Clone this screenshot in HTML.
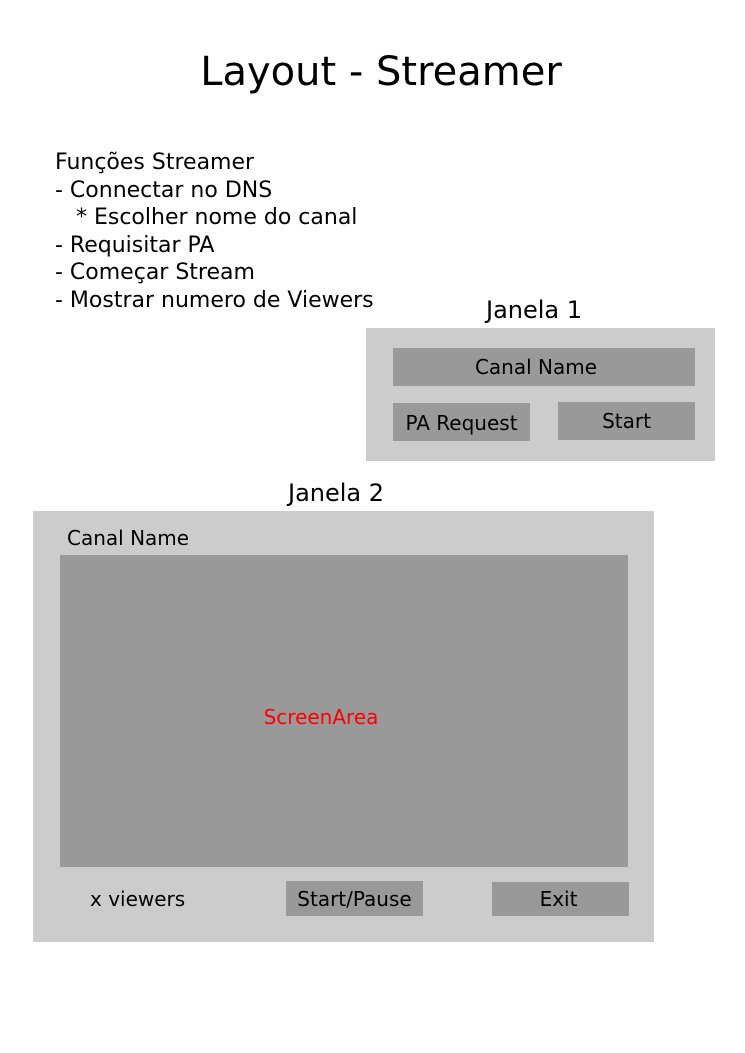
<!DOCTYPE html>
<html><head><meta charset="utf-8"><style>
body{margin:0;width:745px;height:1053px;background:#fff;position:relative;font-family:"DejaVu Sans","Liberation Sans",sans-serif;color:#000;overflow:hidden}
.a{position:absolute;white-space:nowrap}
.b{position:absolute;background:#999;display:flex;align-items:center;justify-content:center;font-size:20px;box-sizing:border-box}
</style></head><body>
<div class="a" style="left:0;width:762px;text-align:center;top:48px;font-size:40px;line-height:48px">Layout - Streamer</div>
<div class="a" style="left:55px;top:149px;font-size:22px;line-height:27.5px">Funções Streamer<br>- Connectar no DNS<br>&nbsp;&nbsp;&nbsp;* Escolher nome do canal<br>- Requisitar PA<br>- Começar Stream<br>- Mostrar numero de Viewers</div>
<div class="a" style="left:486px;top:295px;font-size:24px;line-height:30px">Janela 1</div>
<div class="a" style="left:366px;top:328px;width:349px;height:133px;background:#ccc"></div>
<div class="b" style="left:393px;top:348px;width:302px;height:38px;padding-right:16px">Canal Name</div>
<div class="b" style="left:393px;top:403px;width:137px;height:38px;padding-top:2px">PA Request</div>
<div class="b" style="left:558px;top:402px;width:137px;height:38px">Start</div>
<div class="a" style="left:288px;top:478px;font-size:24px;line-height:30px">Janela 2</div>
<div class="a" style="left:33px;top:511px;width:621px;height:431px;background:#ccc"></div>
<div class="a" style="left:67px;top:526px;font-size:20px;line-height:24px">Canal Name</div>
<div class="b" style="left:60px;top:555px;width:568px;height:312px;color:#f00;padding-right:46px;padding-top:12px">ScreenArea</div>
<div class="a" style="left:90px;top:887px;font-size:20px;line-height:24px">x viewers</div>
<div class="b" style="left:286px;top:881px;width:137px;height:35px">Start/Pause</div>
<div class="b" style="left:492px;top:882px;width:137px;height:34px;padding-right:4px">Exit</div>
</body></html>
